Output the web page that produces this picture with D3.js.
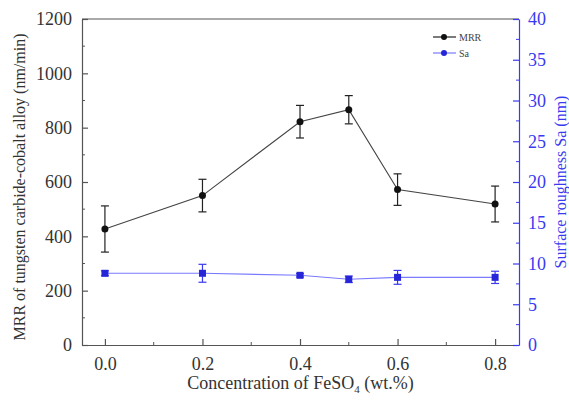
<!DOCTYPE html>
<html><head><meta charset="utf-8">
<script src="https://cdn.jsdelivr.net/npm/d3@7"></script>
<style>body{margin:0;background:#fff}svg{display:block}svg text{font-family:"Times New Roman","Liberation Serif","DejaVu Serif",serif !important}</style>
</head><body><svg id="c" width="569" height="400"></svg>
<script>
const conc = [0.0, 0.2, 0.4, 0.5, 0.6, 0.8];
const mrr = [427, 550, 822, 866, 572, 519];
const mrrErr = [85, 60, 60, 52, 58, 66];
const sa = [8.8, 8.8, 8.55, 8.06, 8.3, 8.3];
const saErr = [0.3, 1.1, 0.2, 0.4, 0.85, 0.75];
const xTicks = [0.0, 0.2, 0.4, 0.6, 0.8];
const yTicks = [0, 200, 400, 600, 800, 1000, 1200];
const y2Ticks = [0, 5, 10, 15, 20, 25, 30, 35, 40];

const svg = d3.select("#c");
const L = 82, R = 519, T = 19, B = 345;
const x = d3.scaleLinear().domain([-0.047, 0.849]).range([L, R]);
const y = d3.scaleLinear().domain([0, 1200]).range([B, T]);
const y2 = d3.scaleLinear().domain([0, 40]).range([B, T]);
const gray = "#555", blue = "#3a3af0", blueLine = "#7a7aff";
const FONT = "Times New Roman, Liberation Serif, serif";

svg.append("line").attr("x1", L).attr("x2", R).attr("y1", T).attr("y2", T).attr("stroke", gray).attr("stroke-width", 1.2);

const gx = svg.append("g").attr("transform", `translate(0,${B})`)
  .call(d3.axisBottom(x).tickValues(xTicks).tickFormat(d3.format(".1f")).tickSizeInner(-6).tickSizeOuter(0).tickPadding(12));
gx.append("g").selectAll("line").data([0.1, 0.3, 0.5, 0.7]).join("line")
  .attr("x1", d => x(d)).attr("x2", d => x(d)).attr("y1", 0).attr("y2", -3).attr("stroke", gray);
const gy = svg.append("g").attr("transform", `translate(${L},0)`)
  .call(d3.axisLeft(y).tickValues(yTicks).tickFormat(d3.format("d")).tickSizeInner(-6).tickSizeOuter(0).tickPadding(10));
gy.append("g").selectAll("line").data([100, 300, 500, 700, 900, 1100]).join("line")
  .attr("y1", d => y(d)).attr("y2", d => y(d)).attr("x1", 0).attr("x2", 3).attr("stroke", gray);
const gy2 = svg.append("g").attr("transform", `translate(${R},0)`)
  .call(d3.axisRight(y2).tickValues(y2Ticks).tickFormat(d3.format("d")).tickSizeInner(-6).tickSizeOuter(0).tickPadding(9));
gy2.append("g").selectAll("line").data(d3.range(2.5, 40, 5)).join("line")
  .attr("y1", d => y2(d)).attr("y2", d => y2(d)).attr("x1", 0).attr("x2", -3).attr("stroke", blue);

[gx, gy, gy2].forEach(g => g.attr("font-family", FONT));
[gx, gy].forEach(g => { g.selectAll(".domain,.tick line").attr("stroke", gray).attr("stroke-width", 1.2);
  g.selectAll(".tick text").attr("font-size", 18).attr("fill", "#333"); });
gy2.selectAll(".domain,.tick line").attr("stroke", blue).attr("stroke-width", 1.2);
gy2.selectAll(".tick text").attr("font-size", 18).attr("fill", blue);

// MRR
svg.append("path").datum(conc.map((c, i) => [c, mrr[i]]))
  .attr("d", d3.line().x(d => x(d[0])).y(d => y(d[1])))
  .attr("fill", "none").attr("stroke", "#444").attr("stroke-width", 1.1);
const em = svg.append("g");
conc.forEach((c, i) => {
  const cx = x(c);
  em.append("line").attr("x1", cx).attr("x2", cx).attr("y1", y(mrr[i] - mrrErr[i])).attr("y2", y(mrr[i] + mrrErr[i])).attr("stroke", "#222").attr("stroke-width", 1.2);
  [mrr[i] - mrrErr[i], mrr[i] + mrrErr[i]].forEach(v =>
    em.append("line").attr("x1", cx - 4).attr("x2", cx + 4).attr("y1", y(v)).attr("y2", y(v)).attr("stroke", "#222").attr("stroke-width", 1.2));
  em.append("circle").attr("cx", cx).attr("cy", y(mrr[i])).attr("r", 3.5).attr("fill", "#111");
});

// Sa
svg.append("path").datum(conc.map((c, i) => [c, sa[i]]))
  .attr("d", d3.line().x(d => x(d[0])).y(d => y2(d[1])))
  .attr("fill", "none").attr("stroke", blueLine).attr("stroke-width", 1.1);
const es = svg.append("g");
conc.forEach((c, i) => {
  const cx = x(c);
  es.append("line").attr("x1", cx).attr("x2", cx).attr("y1", y2(sa[i] - saErr[i])).attr("y2", y2(sa[i] + saErr[i])).attr("stroke", blue).attr("stroke-width", 1.2);
  [sa[i] - saErr[i], sa[i] + saErr[i]].forEach(v =>
    es.append("line").attr("x1", cx - 4).attr("x2", cx + 4).attr("y1", y2(v)).attr("y2", y2(v)).attr("stroke", blue).attr("stroke-width", 1.2));
  es.append("rect").attr("x", cx - 3.5).attr("y", y2(sa[i]) - 3.5).attr("width", 7).attr("height", 7).attr("fill", "#2626d8");
});

// legend
const leg = [["MRR", "#222", "#111"], ["Sa", blueLine, "#2626d8"]];
leg.forEach((l, i) => {
  const ly = 37 + i * 16;
  svg.append("line").attr("x1", 433).attr("x2", 456).attr("y1", ly).attr("y2", ly).attr("stroke", l[1]).attr("stroke-width", 1.2);
  svg.append("circle").attr("cx", 444).attr("cy", ly).attr("r", 3).attr("fill", l[2]);
  svg.append("text").attr("x", 459).attr("y", ly + 3.5).attr("font-size", 10).attr("fill", "#444").text(l[0]);
});

// titles
const xt = svg.append("text").attr("x", (L + R) / 2).attr("y", 389).attr("text-anchor", "middle").attr("font-size", 18).attr("fill", "#333");
xt.append("tspan").text("Concentration of FeSO");
xt.append("tspan").attr("font-size", 11).attr("dy", 4).text("4");
xt.append("tspan").attr("dy", -4).text(" (wt.%)");
svg.append("text").attr("transform", `translate(25,${(T + B) / 2 + 5}) rotate(-90)`).attr("text-anchor", "middle")
  .attr("font-size", 16).attr("fill", "#333").text("MRR of tungsten carbide-cobalt alloy (nm/min)");
svg.append("text").attr("transform", `translate(566,${(T + B) / 2}) rotate(-90)`).attr("text-anchor", "middle")
  .attr("font-size", 16).attr("fill", blue).text("Surface roughness Sa (nm)");
</script></body></html>
